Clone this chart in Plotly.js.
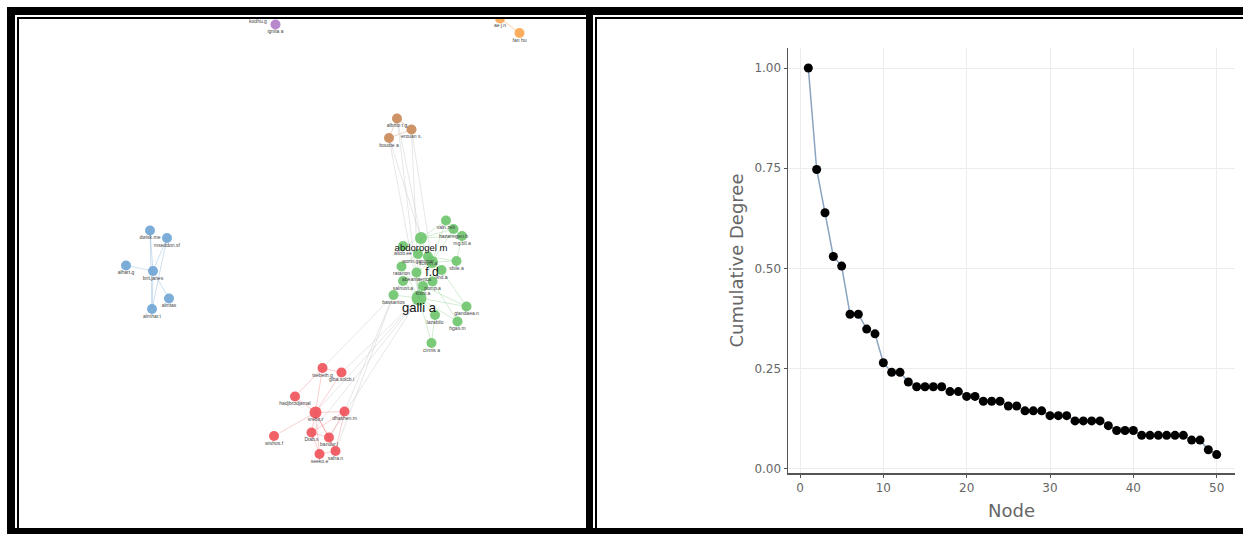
<!DOCTYPE html>
<html><head><meta charset="utf-8">
<script src="https://cdn.plot.ly/plotly-3.0.1.min.js"></script>
<style>html,body{margin:0;padding:0;background:#fff}#chart{width:1243px;height:534px}</style>
</head><body><div id="chart"></div>
<script>
// ---- Network (left panel): node layout coordinates, groups, labels ----
const nodeLabels = ["kodhu.g","ignita a","ae j.n","fan hu","albrito r.g","erouan s.","boudte a",
  "dwisk.me","mseddon.sf","alhart.g","brit.janes","almtas","almhar.t",
  "valn.zeb","hazarmgen.b","mg.bll.a","abdorogel m","altob.ee","wonn.gammar","scsvm.a","sbile.a",
  "ratanon","abeamaerica","f.d","lind.a","salmon.a","pomp.a","klsm.a","bassanios","galli a",
  "giandaea.n","lazabilo","hgas.m","cinnis a",
  "tsebeth.g","giba.solcb.i","hadjbrodjamal","srebo.r","dhashen.m","wishos.f","Diab.s","bandur.l","seeko.e","safra.n"];
const nodeGroup = ["P","P","O","O","B","B","B",
  "L","L","L","L","L","L",
  "G","G","G","G","G","G","G","G","G","G","G","G","G","G","G","G","G","G","G","G","G",
  "R","R","R","R","R","R","R","R","R","R"];
const nodeX = [258,275.5,500,519.5,397,411.5,389,
  150,167,126,153,169,152,
  446,453.5,462,421,403,418,428,456.5,401.5,416.5,432,441.5,403,432.5,423,393.5,419,466.5,435,457.5,431.5,
  322.5,341.5,295,315.5,344.5,274,311.5,329,319.5,335.5];
const nodeY = [14,24.5,18.5,33,118.5,129.5,138,
  230.5,238,265.5,271,298.5,309,
  220.5,229,236,238,246,254,256.5,261,266.5,272.5,262,270,281,281.5,286,295,298,306.5,315,321.5,343,
  368,372.5,396.5,412.5,411.5,436,432.5,437.5,454,451];
const nodeDegree = [1,1,1,1,2,2,2,
  2,1,1,5,1,2,
  3,3,3,8,1,2,2,2,2,3,8,2,2,2,2,3,14,3,2,2,2,
  3,2,2,9,4,1,4,4,3,4];
const labelSize = [5,5,5,5,5,5,5,
  5,5,5,5,5,5,
  5,5,5,9.5,5,5,5,5,5,5,12,5,5,5,5,5,13,5,5,5,5,
  5,5,5,5,5,5,5,5,5,5];
const edgeFrom = [2, 7,8,9,10,10,7,8, 4,4,5,
  4,5,6,4,6,5,
  29,29,29,29,29,29,29,29,29,29,29,29,16,16,16,16,16,16,23,23,23,23,23,19,27,31,22,18,26,24,13,14,17,20,
  28,29,29,28,29,28,29,
  34,34,36,37,37,37,37,37,37,40,40,41,42,38,38,36,38,35];
const edgeTo = [3, 10,10,10,11,12,12,12, 5,6,6,
  29,29,29,16,16,23,
  16,23,28,30,31,32,33,21,22,25,26,27,13,14,15,17,18,19,20,24,13,14,22,20,30,33,25,21,32,30,14,15,18,15,
  34,35,37,38,41,43,40,
  35,37,37,38,39,40,41,42,43,41,42,43,43,41,43,34,40,37];

// ---- Cumulative degree chart (right panel) ----
const nodeIndex = [1,2,3,4,5,6,7,8,9,10,11,12,13,14,15,16,17,18,19,20,21,22,23,24,25,
  26,27,28,29,30,31,32,33,34,35,36,37,38,39,40,41,42,43,44,45,46,47,48,49,50];
const cumulativeDegree = [1.000,0.747,0.639,0.530,0.506,0.386,0.386,0.349,0.337,0.265,
  0.241,0.241,0.217,0.205,0.205,0.205,0.205,0.193,0.193,0.181,
  0.181,0.169,0.169,0.169,0.157,0.157,0.145,0.145,0.145,0.133,
  0.133,0.133,0.120,0.120,0.120,0.120,0.108,0.096,0.096,0.096,
  0.084,0.084,0.084,0.084,0.084,0.084,0.072,0.072,0.048,0.036];
const xTickVals = [0,10,20,30,40,50];
const yTickVals = [0,0.25,0.5,0.75,1];
const yTickText = ["0.00","0.25","0.50","0.75","1.00"];

const W = 1243, H = 534;
const groupColor = {P:"#b07cc6",O:"#fca54c",B:"#c98858",L:"#6ea4d4",G:"#6cc46c",R:"#ef5058"};
const groupEdge = {P:"rgba(176,124,198,0.4)",O:"rgba(252,165,76,0.5)",B:"rgba(201,136,88,0.35)",
  L:"rgba(110,164,212,0.35)",G:"rgba(108,196,108,0.3)",R:"rgba(239,80,88,0.28)"};
const crossEdge = "rgba(195,195,195,0.4)";

// edge traces grouped by colour
const edgeSets = {};
for (let i = 0; i < edgeFrom.length; i++) {
  const a = edgeFrom[i], b = edgeTo[i];
  const col = nodeGroup[a] === nodeGroup[b] ? groupEdge[nodeGroup[a]] : crossEdge;
  if (!edgeSets[col]) edgeSets[col] = {x: [], y: []};
  edgeSets[col].x.push(nodeX[a], nodeX[b], null);
  edgeSets[col].y.push(nodeY[a], nodeY[b], null);
}
const traces = [];
Object.keys(edgeSets).forEach(col => {
  traces.push({type: "scatter", mode: "lines", x: edgeSets[col].x, y: edgeSets[col].y,
    xaxis: "x", yaxis: "y", hoverinfo: "skip", line: {color: col, width: 1}});
});
traces.push({type: "scatter", mode: "markers", x: nodeX, y: nodeY, xaxis: "x", yaxis: "y",
  marker: {size: nodeDegree.map(d => d >= 14 ? 15 : (d >= 8 ? 12 : 10)),
    color: nodeGroup.map(g => groupColor[g]), opacity: 0.9, line: {width: 0}},
  hoverinfo: "text", text: nodeLabels});
traces.push({type: "scatter", mode: "text", x: nodeX,
  y: nodeY.map((y, i) => y + (labelSize[i] > 6 ? 11 : 7.5)), xaxis: "x", yaxis: "y",
  text: nodeLabels, cliponaxis: false, hoverinfo: "skip",
  textfont: {family: "Liberation Sans, Arial, sans-serif",
    size: labelSize, color: labelSize.map(s => s > 6 ? "#111" : "#444")}});

// cumulative degree trace
traces.push({type: "scatter", mode: "lines+markers", x: nodeIndex, y: cumulativeDegree,
  xaxis: "x2", yaxis: "y2", line: {color: "#8aa3c0", width: 1.5},
  marker: {color: "#000", size: 9}});

const px = x => x / W, py = y => 1 - y / H;
const rect = (x0, y0, x1, y1) => ({type: "rect", xref: "paper", yref: "paper",
  x0: px(x0), x1: px(x1), y0: py(y1), y1: py(y0), fillcolor: "#000", line: {width: 0}, layer: "above"});

const layout = {
  width: W, height: H, margin: {l: 0, r: 0, t: 0, b: 0}, showlegend: false,
  paper_bgcolor: "#fff", plot_bgcolor: "rgba(0,0,0,0)",
  xaxis: {domain: [19 / W, 586 / W], range: [19, 586], visible: false, fixedrange: true},
  yaxis: {domain: [6 / H, 517 / H], range: [528, 17], visible: false, fixedrange: true},
  xaxis2: {domain: [788 / W, 1235 / W], anchor: "y2", range: [-1.44, 52.2],
    tickvals: xTickVals, showgrid: true, gridcolor: "#ececec", gridwidth: 1, zeroline: false,
    showline: true, linecolor: "#555", linewidth: 1.5, ticks: "outside", ticklen: 3, tickcolor: "#555",
    tickfont: {family: "DejaVu Sans, Verdana, sans-serif", size: 12, color: "#666"},
    title: {text: "Node", font: {family: "DejaVu Sans, Verdana, sans-serif", size: 18, color: "#666"}, standoff: 10}},
  yaxis2: {domain: [61 / H, 486 / H], anchor: "x2", range: [-0.01, 1.05],
    tickvals: yTickVals, ticktext: yTickText, showgrid: true, gridcolor: "#ececec", gridwidth: 1, zeroline: false,
    showline: true, linecolor: "#555", linewidth: 1.5, ticks: "outside", ticklen: 3, tickcolor: "#555",
    tickfont: {family: "DejaVu Sans, Verdana, sans-serif", size: 12, color: "#666"},
    title: {text: "Cumulative Degree", font: {family: "DejaVu Sans, Verdana, sans-serif", size: 18, color: "#666"}, standoff: 6}},
  shapes: [
    rect(7, 7, W, 15),      // top thick bar
    rect(7, 7, 15, H),      // left thick bar
    rect(7, 528, W, H),     // bottom bar
    rect(586, 7, 593, H),   // middle divider
    rect(17, 17, 586, 19),  // left panel inner top
    rect(17, 17, 19, 528),  // left panel inner left
    rect(595, 17, 597, 528),// right panel inner left
    rect(595, 17, W, 19)    // right panel inner top
  ]
};
Plotly.newPlot("chart", traces, layout, {displayModeBar: false, staticPlot: true});
</script></body></html>
